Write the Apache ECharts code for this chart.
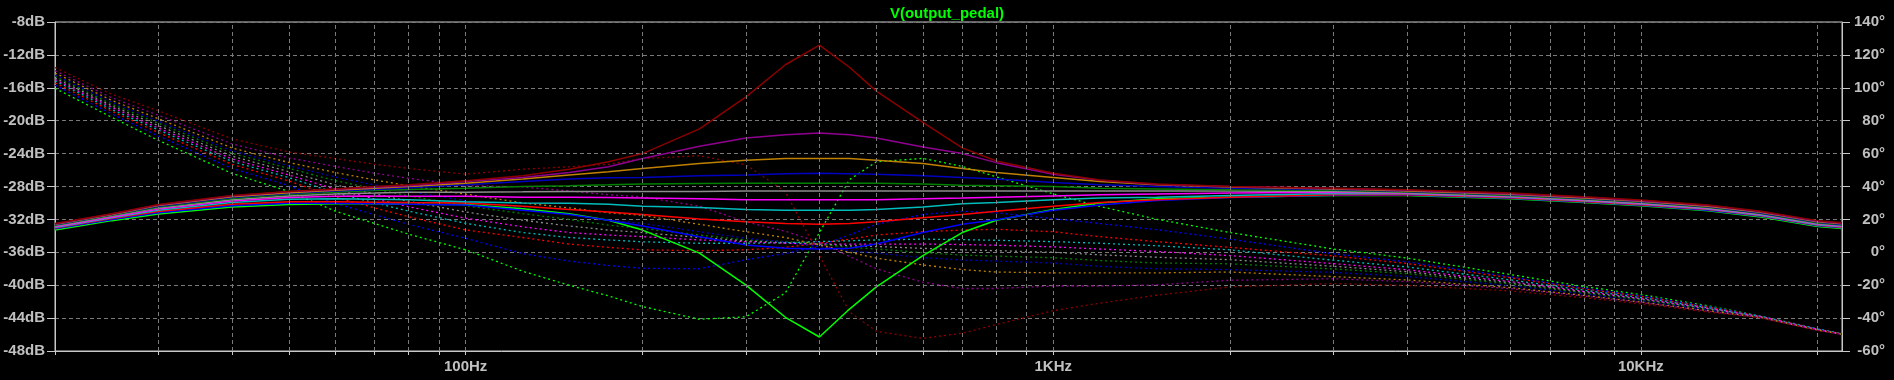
<!DOCTYPE html>
<html><head><meta charset="utf-8">
<script src="https://cdn.jsdelivr.net/npm/echarts@6/dist/echarts.min.js"></script>
<style>html,body{margin:0;padding:0;background:#000;}#c{width:1894px;height:380px;}</style>
</head><body><div id="c"></div>
<script>
// Frequencies (Hz)
const FREQ = [20,25,30,40,50,60,70,80,100,125,150,175,200,250,300,350,400,450,500,600,700,800,1000,1200,1500,2000,3000,4000,6000,8000,10000,13000,16000,20000,22000];
// Vertical grid lines (Hz) and x labels
const X_GRID = [30,40,50,60,70,80,90,100,200,300,400,500,600,700,800,900,1000,2000,3000,4000,5000,6000,7000,8000,9000,10000,20000];
const X_TICKS = [20,30,40,50,60,70,80,90,100,200,300,400,500,600,700,800,900,1000,2000,3000,4000,5000,6000,7000,8000,9000,10000,20000];
const X_LABELS = {100:'100Hz',1000:'1KHz',10000:'10KHz'};
const TITLE = 'V(output_pedal)';

// Magnitude (dB)
const magGreen   = [-33.3,-32.15,-31.35,-30.5,-30.2,-30.1,-30.1,-30.15,-30.2,-30.7,-31.3,-32.1,-33.3,-36.1,-40.0,-43.9,-46.3,-42.9,-40.2,-36.4,-33.6,-32.1,-30.8,-30.0,-29.5,-29.3,-29.1,-29.1,-29.5,-29.95,-30.35,-30.95,-31.7,-32.85,-33.1];
const magBlueC   = [-33.15,-32.0,-31.2,-30.35,-30.05,-30.05,-30.1,-30.15,-30.25,-30.9,-31.4,-32.1,-32.8,-34.1,-35.1,-35.5,-35.6,-35.5,-35.0,-33.6,-32.6,-32.05,-30.9,-30.25,-29.7,-29.35,-29.05,-29.03,-29.43,-29.88,-30.28,-30.88,-31.63,-32.78,-33.03];
const magRed     = [-33.05,-31.9,-31.05,-30.15,-29.85,-29.85,-29.9,-29.95,-30.0,-30.4,-30.8,-31.1,-31.4,-31.95,-32.3,-32.5,-32.6,-32.5,-32.3,-31.8,-31.4,-31.0,-30.4,-29.95,-29.6,-29.3,-29.0,-28.96,-29.36,-29.81,-30.21,-30.81,-31.56,-32.71,-32.96];
const magCyan    = [-33.0,-31.8,-30.9,-29.95,-29.55,-29.5,-29.55,-29.6,-29.85,-30.0,-30.05,-30.15,-30.4,-30.55,-30.8,-30.9,-30.9,-30.9,-30.8,-30.5,-30.1,-29.95,-29.6,-29.4,-29.3,-29.1,-28.85,-28.89,-29.29,-29.74,-30.14,-30.74,-31.49,-32.64,-32.89];
const magMagenta = [-32.9,-31.7,-30.75,-29.75,-29.35,-29.2,-29.15,-29.2,-29.2,-29.3,-29.3,-29.35,-29.4,-29.5,-29.6,-29.6,-29.6,-29.6,-29.6,-29.5,-29.4,-29.3,-29.15,-29.0,-28.9,-28.8,-28.7,-28.82,-29.22,-29.67,-30.07,-30.67,-31.42,-32.57,-32.82];
const magGray    = [-32.8,-31.6,-30.6,-29.6,-29.15,-28.9,-28.8,-28.7,-28.7,-28.65,-28.6,-28.6,-28.6,-28.6,-28.55,-28.55,-28.55,-28.55,-28.55,-28.55,-28.55,-28.55,-28.55,-28.55,-28.55,-28.55,-28.6,-28.75,-29.15,-29.6,-30.0,-30.6,-31.35,-32.5,-32.75];
const magDkGreen = [-32.7,-31.5,-30.5,-29.45,-28.95,-28.7,-28.5,-28.35,-28.2,-28.0,-27.9,-27.8,-27.7,-27.65,-27.6,-27.6,-27.6,-27.6,-27.6,-27.7,-27.85,-27.9,-28.0,-28.2,-28.3,-28.4,-28.45,-28.68,-29.08,-29.53,-29.93,-30.53,-31.28,-32.43,-32.68];
const magBlueB   = [-32.65,-31.45,-30.4,-29.35,-28.85,-28.55,-28.35,-28.15,-27.8,-27.4,-27.1,-26.95,-26.9,-26.7,-26.6,-26.45,-26.4,-26.45,-26.5,-26.7,-26.9,-27.1,-27.5,-27.8,-28.0,-28.2,-28.35,-28.61,-29.01,-29.46,-29.86,-30.46,-31.21,-32.36,-32.61];
const magOrange  = [-32.6,-31.4,-30.3,-29.25,-28.75,-28.45,-28.2,-28.0,-27.6,-27.1,-26.6,-26.2,-25.8,-25.2,-24.8,-24.6,-24.6,-24.6,-24.8,-25.2,-25.8,-26.3,-26.9,-27.4,-27.8,-28.05,-28.3,-28.54,-28.94,-29.39,-29.79,-30.39,-31.14,-32.29,-32.54];
const magPurple  = [-32.55,-31.35,-30.25,-29.15,-28.65,-28.35,-28.1,-27.9,-27.4,-26.9,-26.3,-25.6,-24.6,-23.1,-22.1,-21.7,-21.5,-21.7,-22.1,-23.2,-24.0,-25.1,-26.5,-27.25,-27.75,-28.0,-28.25,-28.47,-28.87,-29.32,-29.72,-30.32,-31.07,-32.22,-32.47];
const magDarkRed = [-32.5,-31.3,-30.2,-29.1,-28.6,-28.3,-28.0,-27.8,-27.3,-26.7,-25.9,-25.0,-24.0,-21.0,-17.1,-13.2,-10.8,-13.5,-16.4,-20.2,-23.3,-24.9,-26.4,-27.2,-27.7,-28.0,-28.2,-28.4,-28.8,-29.25,-29.65,-30.25,-31.0,-32.15,-32.4];

// Phase (degrees)
const phGreen   = [99.7,82,68,48,37,25,17.5,11,1.5,-11.5,-20,-26.5,-33,-40.7,-39.2,-24.7,12,44.2,55,57.1,52.2,45.9,35.5,27.9,20.1,12,2,-3.5,-13.5,-20.8,-25.7,-32.5,-38.8,-46.5,-49.5];
const phBlueC   = [101.6,84.1,70.7,51.1,40.6,29.8,22.9,17,8.5,-0.8,-5.3,-8,-9.7,-10,-4.5,-0.8,4,10.5,17,23,25,24,20.5,17.5,13.8,8,-0.9,-5.8,-14.9,-21.8,-26.5,-33,-38.9,-46.6,-49.6];
const phRed     = [103,85.7,72.8,53.5,43.4,33.5,27,21.6,13.6,9,5,3,1.5,1,1.5,3,5.5,8,10.5,12.5,13.5,14,12.5,9.5,6.5,3,-2.2,-6.8,-15.5,-22.2,-26.8,-33.3,-39,-46.7,-49.6];
const phCyan    = [104.2,86.8,74.3,55.3,45.4,36.2,30.1,25,17.6,12,9,7.5,6.4,5.5,5.5,5.8,6.5,7,7.5,8,7.7,7.3,6.5,5.5,4,1.5,-4.8,-8.9,-16.75,-23,-27.5,-33.7,-39.1,-46.8,-49.6];
const phMagenta = [105,88,75.5,56.8,47,38.4,32.5,27.7,20.7,15.5,12,10.5,9.5,7.5,6.5,5.5,5,5,5,5,4.7,4.3,3.3,2,0.5,-2,-6.9,-10.6,-17.75,-23.7,-28.1,-34.1,-39.2,-46.9,-49.65];
const phGray    = [106,89,77,58.5,49,41,35.5,31,24.5,19.5,16,13.5,12,9,7,6,5,4,3.5,2.4,1.5,1,0,-1.5,-3,-4.5,-8.5,-11.8,-18.5,-24.2,-28.5,-34.4,-39.3,-47,-49.7];
const phDkGreen = [107,90,78.5,60.2,51,43.6,38.5,34.3,28.3,23.5,20,16.5,14.5,10.5,7.5,6.5,5,3,2,-0.2,-1.7,-2.3,-3.3,-5,-6.5,-7,-10.1,-13,-19.25,-24.7,-28.9,-34.7,-39.4,-47.1,-49.75];
const phBlueB   = [107.8,91.2,79.7,61.7,52.6,45.8,40.9,37,31.4,27,23,19.5,17.6,12.5,8.5,6.2,3.5,1,-0.5,-3.2,-4.7,-5.3,-6.5,-8.5,-10,-10.5,-12.2,-14.7,-20.25,-25.4,-29.5,-35.1,-39.5,-47.2,-49.8];
const phOrange  = [109,92.3,81.2,63.5,54.6,48.5,44,40.4,35.4,30,27,24,22.5,17,12.5,9,4.5,0,-3.5,-7.7,-10.5,-12,-12.5,-12.5,-12.5,-12,-14.8,-16.8,-21.5,-26.2,-30.2,-35.5,-39.6,-47.3,-49.8];
const phPurple  = [110.4,93.9,83.3,65.9,57.4,52.2,48.1,45,40.5,39.8,37.3,35,33.7,28,18.5,12.8,6,-2.5,-10,-18.2,-22,-22,-20.5,-20.5,-19.8,-17,-16.1,-17.8,-22.1,-26.6,-30.5,-35.8,-39.7,-47.4,-49.8];
const phDarkRed = [112.3,96,86,69,61,57,53.5,51,47.5,50.5,52,53.5,57,58.7,53.2,36.7,-2,-36.2,-48,-52.3,-49.2,-43.9,-35.5,-30.9,-26.1,-21,-19,-20.1,-23.5,-27.6,-31.3,-36.3,-39.8,-47.5,-49.9];

const TRACES = [
  {name:'step1',  color:'#00ff00', mag:magGreen,   ph:phGreen},
  {name:'step2',  color:'#0000ff', mag:magBlueC,   ph:phBlueC},
  {name:'step3',  color:'#ff0000', mag:magRed,     ph:phRed},
  {name:'step4',  color:'#00bcbc', mag:magCyan,    ph:phCyan},
  {name:'step5',  color:'#ff00ff', mag:magMagenta, ph:phMagenta},
  {name:'step6',  color:'#8c8c8c', mag:magGray,    ph:phGray},
  {name:'step7',  color:'#008000', mag:magDkGreen, ph:phDkGreen},
  {name:'step8',  color:'#0000c0', mag:magBlueB,   ph:phBlueB},
  {name:'step9',  color:'#c08000', mag:magOrange,  ph:phOrange},
  {name:'step10', color:'#900090', mag:magPurple,  ph:phPurple},
  {name:'step11', color:'#8c0000', mag:magDarkRed, ph:phDarkRed}
];

const FONT = '"Liberation Sans", Arial, sans-serif';
const LABEL = {color:'#c0c0c0', fontSize:15, fontWeight:'bold', fontFamily:FONT};

const series = [];
series.push({
  type:'line', data:[], xAxisIndex:0, yAxisIndex:0, silent:true,
  markLine:{silent:true, symbol:['none','none'], label:{show:false},
    lineStyle:{color:'#7a7a7a', type:[4,3], width:1},
    animation:false,
    data: X_GRID.map(v => ({xAxis:v}))}
});
TRACES.forEach(t => {
  series.push({name:t.name+' phase', type:'line', yAxisIndex:1, showSymbol:false, animation:false,
    lineStyle:{color:t.color, width:1.3, type:[2,3]}, itemStyle:{color:t.color},
    data: FREQ.map((f,i)=>[f, t.ph[i]])});
});
TRACES.forEach(t => {
  series.push({name:t.name, type:'line', yAxisIndex:0, showSymbol:false, animation:false,
    lineStyle:{color:t.color, width:1.5}, itemStyle:{color:t.color},
    data: FREQ.map((f,i)=>[f, t.mag[i]])});
});

const chart = echarts.init(document.getElementById('c'), null, {renderer:'canvas'});
chart.setOption({
  backgroundColor:'#000000',
  animation:false,
  title:{text:TITLE, left:'center', top:1,
    textStyle:{color:'#00ff00', fontSize:15, fontWeight:'bold', fontFamily:FONT}},
  grid:{left:55, right:52, top:22, bottom:29, show:true, borderColor:'#c8c8c8', borderWidth:1, containLabel:false},
  xAxis:{type:'log', logBase:10, min:20, max:22000,
    axisLine:{show:true, onZero:false, lineStyle:{color:'#c8c8c8', width:1}},
    axisTick:{show:true, length:4, customValues:X_TICKS, lineStyle:{color:'#c8c8c8'}},
    splitLine:{show:false},
    axisLabel:Object.assign({}, LABEL, {margin:8, formatter:v => X_LABELS[Math.round(v)] || ''})
  },
  yAxis:[
    {type:'value', min:-48, max:-8, interval:4, position:'left',
      axisLine:{show:true, onZero:false, lineStyle:{color:'#c8c8c8'}},
      axisTick:{show:true, length:8, lineStyle:{color:'#c8c8c8'}},
      splitLine:{show:true, lineStyle:{color:'#7a7a7a', type:[4,3], width:1}},
      axisLabel:Object.assign({}, LABEL, {margin:10, formatter:v => v+'dB'})},
    {type:'value', min:-60, max:140, interval:20, position:'right',
      axisLine:{show:true, onZero:false, lineStyle:{color:'#c8c8c8'}},
      axisTick:{show:true, length:8, lineStyle:{color:'#c8c8c8'}},
      splitLine:{show:false},
      axisLabel:Object.assign({}, LABEL, {margin:43, align:'right', formatter:v => v+'°'})}
  ],
  series: series
});
</script>
</body></html>
